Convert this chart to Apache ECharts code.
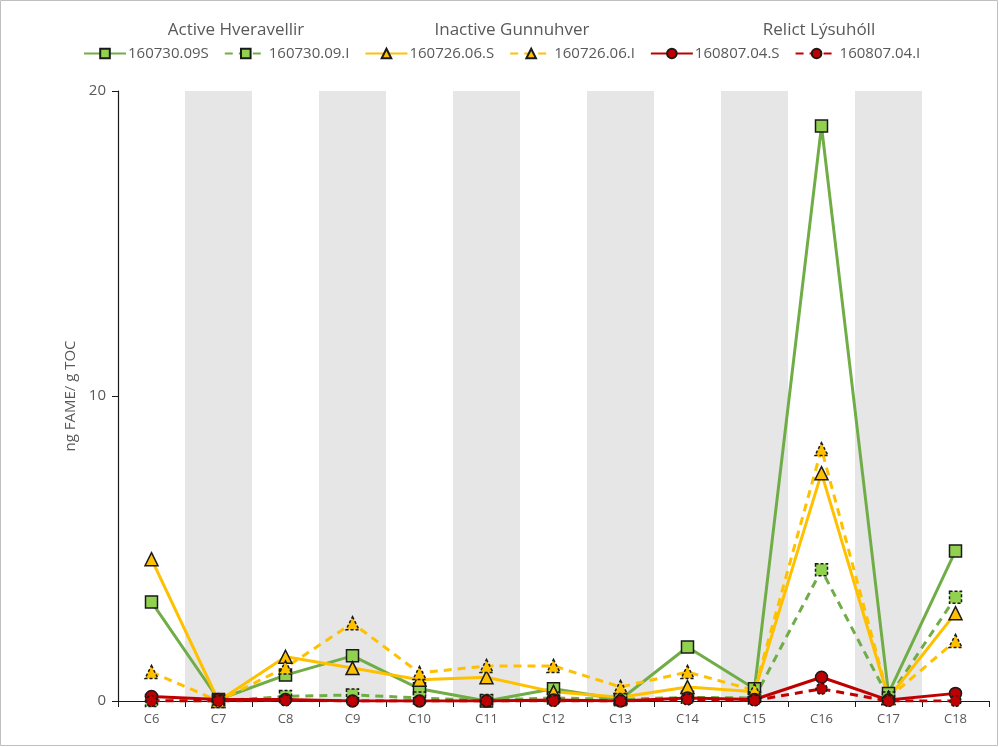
<!DOCTYPE html>
<html>
<head>
<meta charset="utf-8">
<script src="https://cdn.jsdelivr.net/npm/echarts@6/dist/echarts.min.js"></script>
<style>
  html, body { margin: 0; padding: 0; background: #fff; }
  #main { width: 999px; height: 747px; }
</style>
</head>
<body>
<div id="main"></div>
<script>
// categories (fatty acid chain length)
var categories = ['C6', 'C7', 'C8', 'C9', 'C10', 'C11', 'C12', 'C13', 'C14', 'C15', 'C16', 'C17', 'C18'];

// series values, ng FAME / g TOC
var active09S   = [3.25, 0.05, 0.85, 1.48, 0.4, 0.0, 0.4, 0.05, 1.77, 0.4, 18.85, 0.25, 4.92];
var active09I   = [0.02, 0.0, 0.15, 0.2, 0.1, 0.02, 0.1, 0.05, 0.12, 0.1, 4.3, 0.1, 3.4];
var inactive06S = [4.65, 0.0, 1.45, 1.08, 0.7, 0.78, 0.3, 0.12, 0.46, 0.3, 7.47, 0.1, 2.88];
var inactive06I = [0.95, 0.0, 1.1, 2.55, 0.92, 1.15, 1.15, 0.46, 0.95, 0.35, 8.26, 0.1, 1.97];
var relict04S   = [0.15, 0.05, 0.05, 0.0, 0.0, 0.0, 0.03, 0.0, 0.1, 0.05, 0.78, 0.03, 0.25];
var relict04I   = [0.0, 0.0, 0.02, 0.0, 0.0, 0.0, 0.0, 0.0, 0.05, 0.02, 0.4, 0.0, 0.0];

var seriesNames = ['160730.09S', '160730.09.I', '160726.06.S', '160726.06.I', '160807.04.S', '160807.04.I'];
var groupTitles = ['Active Hveravellir', 'Inactive Gunnuhver', 'Relict Lýsuhóll'];
var yTicks = [0, 10, 20];

var GREEN = '#70ad47', GREEN_FILL = '#92d050';
var YELLOW = '#ffc000';
var RED = '#c00000';
var FONT = '"Open Sans", "Liberation Sans", sans-serif';
var TXT = '#595959';

var chart = echarts.init(document.getElementById('main'));

function mk(name, data, color, fill, symbol, size, dashed) {
  return {
    name: name,
    type: 'line',
    data: data,
    symbol: symbol,
    symbolSize: size,
    lineStyle: { color: color, width: 3, type: dashed ? [8, 6] : 'solid' },
    itemStyle: { color: fill, borderColor: '#1a1a1a', borderWidth: 1.5, borderType: dashed ? [3, 2] : 'solid' },
    emphasis: { disabled: true },
    z: 3
  };
}

function groupTitle(text, x) {
  return { text: text, left: x, top: 17, textAlign: 'center',
    textStyle: { fontSize: 17, fontWeight: 'normal', color: TXT, fontFamily: FONT } };
}

var option = {
  animation: false,
  textStyle: { fontFamily: FONT },
  title: [
    groupTitle(groupTitles[0], 231),
    groupTitle(groupTitles[1], 507),
    groupTitle(groupTitles[2], 814)
  ],
  legend: {
    data: seriesNames,
    left: 78,
    top: 41,
    itemWidth: 42,
    itemHeight: 12,
    itemGap: 15,
    textStyle: { fontSize: 15, color: TXT, fontFamily: FONT, padding: [0, 0, 0, -3] }
  },
  grid: { left: 118, right: 10, top: 91, bottom: 46, containLabel: false },
  xAxis: {
    type: 'category',
    data: categories,
    boundaryGap: true,
    axisLine: { lineStyle: { color: '#1a1a1a', width: 1.2 } },
    axisTick: { show: true, length: 6, lineStyle: { color: '#1a1a1a' } },
    axisLabel: { color: TXT, fontSize: 13, margin: 12 },
    splitArea: { show: true, areaStyle: { color: ['rgba(0,0,0,0)', '#e6e6e6'] } },
    splitLine: { show: false }
  },
  yAxis: {
    type: 'value',
    min: yTicks[0],
    max: yTicks[yTicks.length - 1],
    interval: 10,
    name: 'ng FAME/ g TOC',
    nameLocation: 'middle',
    nameGap: 38,
    nameTextStyle: { color: TXT, fontSize: 15 },
    axisLine: { show: true, lineStyle: { color: '#1a1a1a', width: 1.2 } },
    axisTick: { show: true, length: 6, lineStyle: { color: '#1a1a1a' } },
    axisLabel: { color: TXT, fontSize: 15, margin: 12 },
    splitLine: { show: false }
  },
  graphic: [{
    type: 'rect',
    shape: { x: 0.5, y: 0.5, width: 997, height: 745 },
    style: { fill: 'none', stroke: '#bfbfbf', lineWidth: 1 },
    silent: true, z: -1
  }],
  series: [
    mk(seriesNames[0], active09S, GREEN, GREEN_FILL, 'rect', 12, false),
    mk(seriesNames[1], active09I, GREEN, GREEN_FILL, 'rect', 12, true),
    mk(seriesNames[2], inactive06S, YELLOW, YELLOW, 'triangle', 13, false),
    mk(seriesNames[3], inactive06I, YELLOW, YELLOW, 'triangle', 13, true),
    mk(seriesNames[4], relict04S, RED, RED, 'circle', 12, false),
    mk(seriesNames[5], relict04I, RED, RED, 'circle', 11, true)
  ]
};

chart.setOption(option);
</script>
</body>
</html>
